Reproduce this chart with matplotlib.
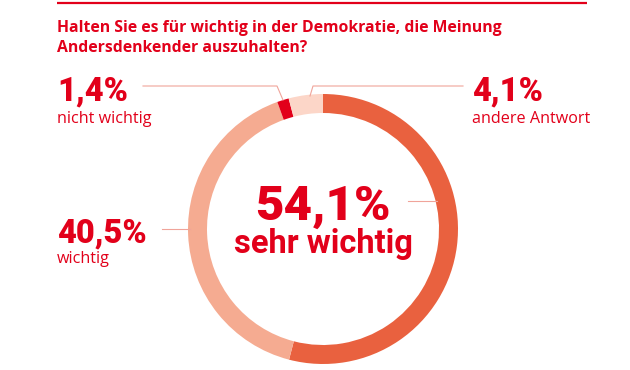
import matplotlib
matplotlib.use("Agg")
import matplotlib.pyplot as plt

# data
categories = ["sehr wichtig", "wichtig", "nicht wichtig", "andere Antwort"]
values = [54.1, 40.5, 1.4, 4.1]
pct_labels = ["54,1%", "40,5%", "1,4%", "4,1%"]
colors = ["#e9613f", "#f5ab91", "#e2001a", "#fcd6c8"]

title_lines = ["Halten Sie es für wichtig in der Demokratie, die Meinung",
               "Andersdenkender auszuhalten?"]

RED = "#e2001a"
LINE = "#f0a49a"
W, H = 630, 370

plt.rcParams["font.family"] = ["Roboto", "DejaVu Sans"]
SANS = ["Open Sans", "DejaVu Sans"]

fig = plt.figure(figsize=(6.3, 3.7), dpi=100)
ax = fig.add_axes([0, 0, 1, 1])

def Y(y):
    # image pixel row -> data y
    return H - y

cx, cy, r = 323, Y(229), 135
ax.pie(values, colors=colors, startangle=90, counterclock=False,
       center=(cx, cy), radius=r,
       wedgeprops=dict(width=19, linewidth=0))
ax.set_xlim(0, W)
ax.set_ylim(0, H)
ax.set_aspect("equal")
ax.axis("off")

# top rule + title
ax.plot([57, 587], [Y(3), Y(3)], color=RED, lw=1.6, solid_capstyle="butt")
ax.text(57, Y(32), title_lines[0], color=RED, fontsize=11.3, fontweight="bold",
        family=SANS, va="baseline")
ax.text(57, Y(52), title_lines[1], color=RED, fontsize=11.3, fontweight="bold",
        family=SANS, va="baseline")

# center label
ax.text(cx, Y(220), pct_labels[0], color=RED, fontsize=35.5, fontweight="black",
        ha="center", va="baseline")
ax.text(cx, Y(253), categories[0], color=RED, fontsize=23.5, fontweight="bold",
        ha="center", va="baseline")
ax.plot([408, 437], [Y(201), Y(201)], color=LINE, lw=0.8)

# side labels: (index, x, baseline of pct, baseline of name)
side = [(1, 57, 242, 263), (2, 57, 100, 123), (3, 472, 100, 123)]
for i, x, yb, yn in side:
    ax.text(x, Y(yb), pct_labels[i], color=RED, fontsize=23.5, fontweight="black", va="baseline")
    ax.text(x, Y(yn), categories[i], color=RED, fontsize=11.6, family=SANS, va="baseline")

# leader lines
ax.plot([162, 190], [Y(229), Y(229)], color=LINE, lw=0.8)
ax.plot([143, 277, 283], [Y(86), Y(86), Y(100)], color=LINE, lw=0.8)
ax.plot([310, 313, 463], [Y(96), Y(86), Y(86)], color=LINE, lw=0.8)

fig.savefig("out.png", dpi=100)
